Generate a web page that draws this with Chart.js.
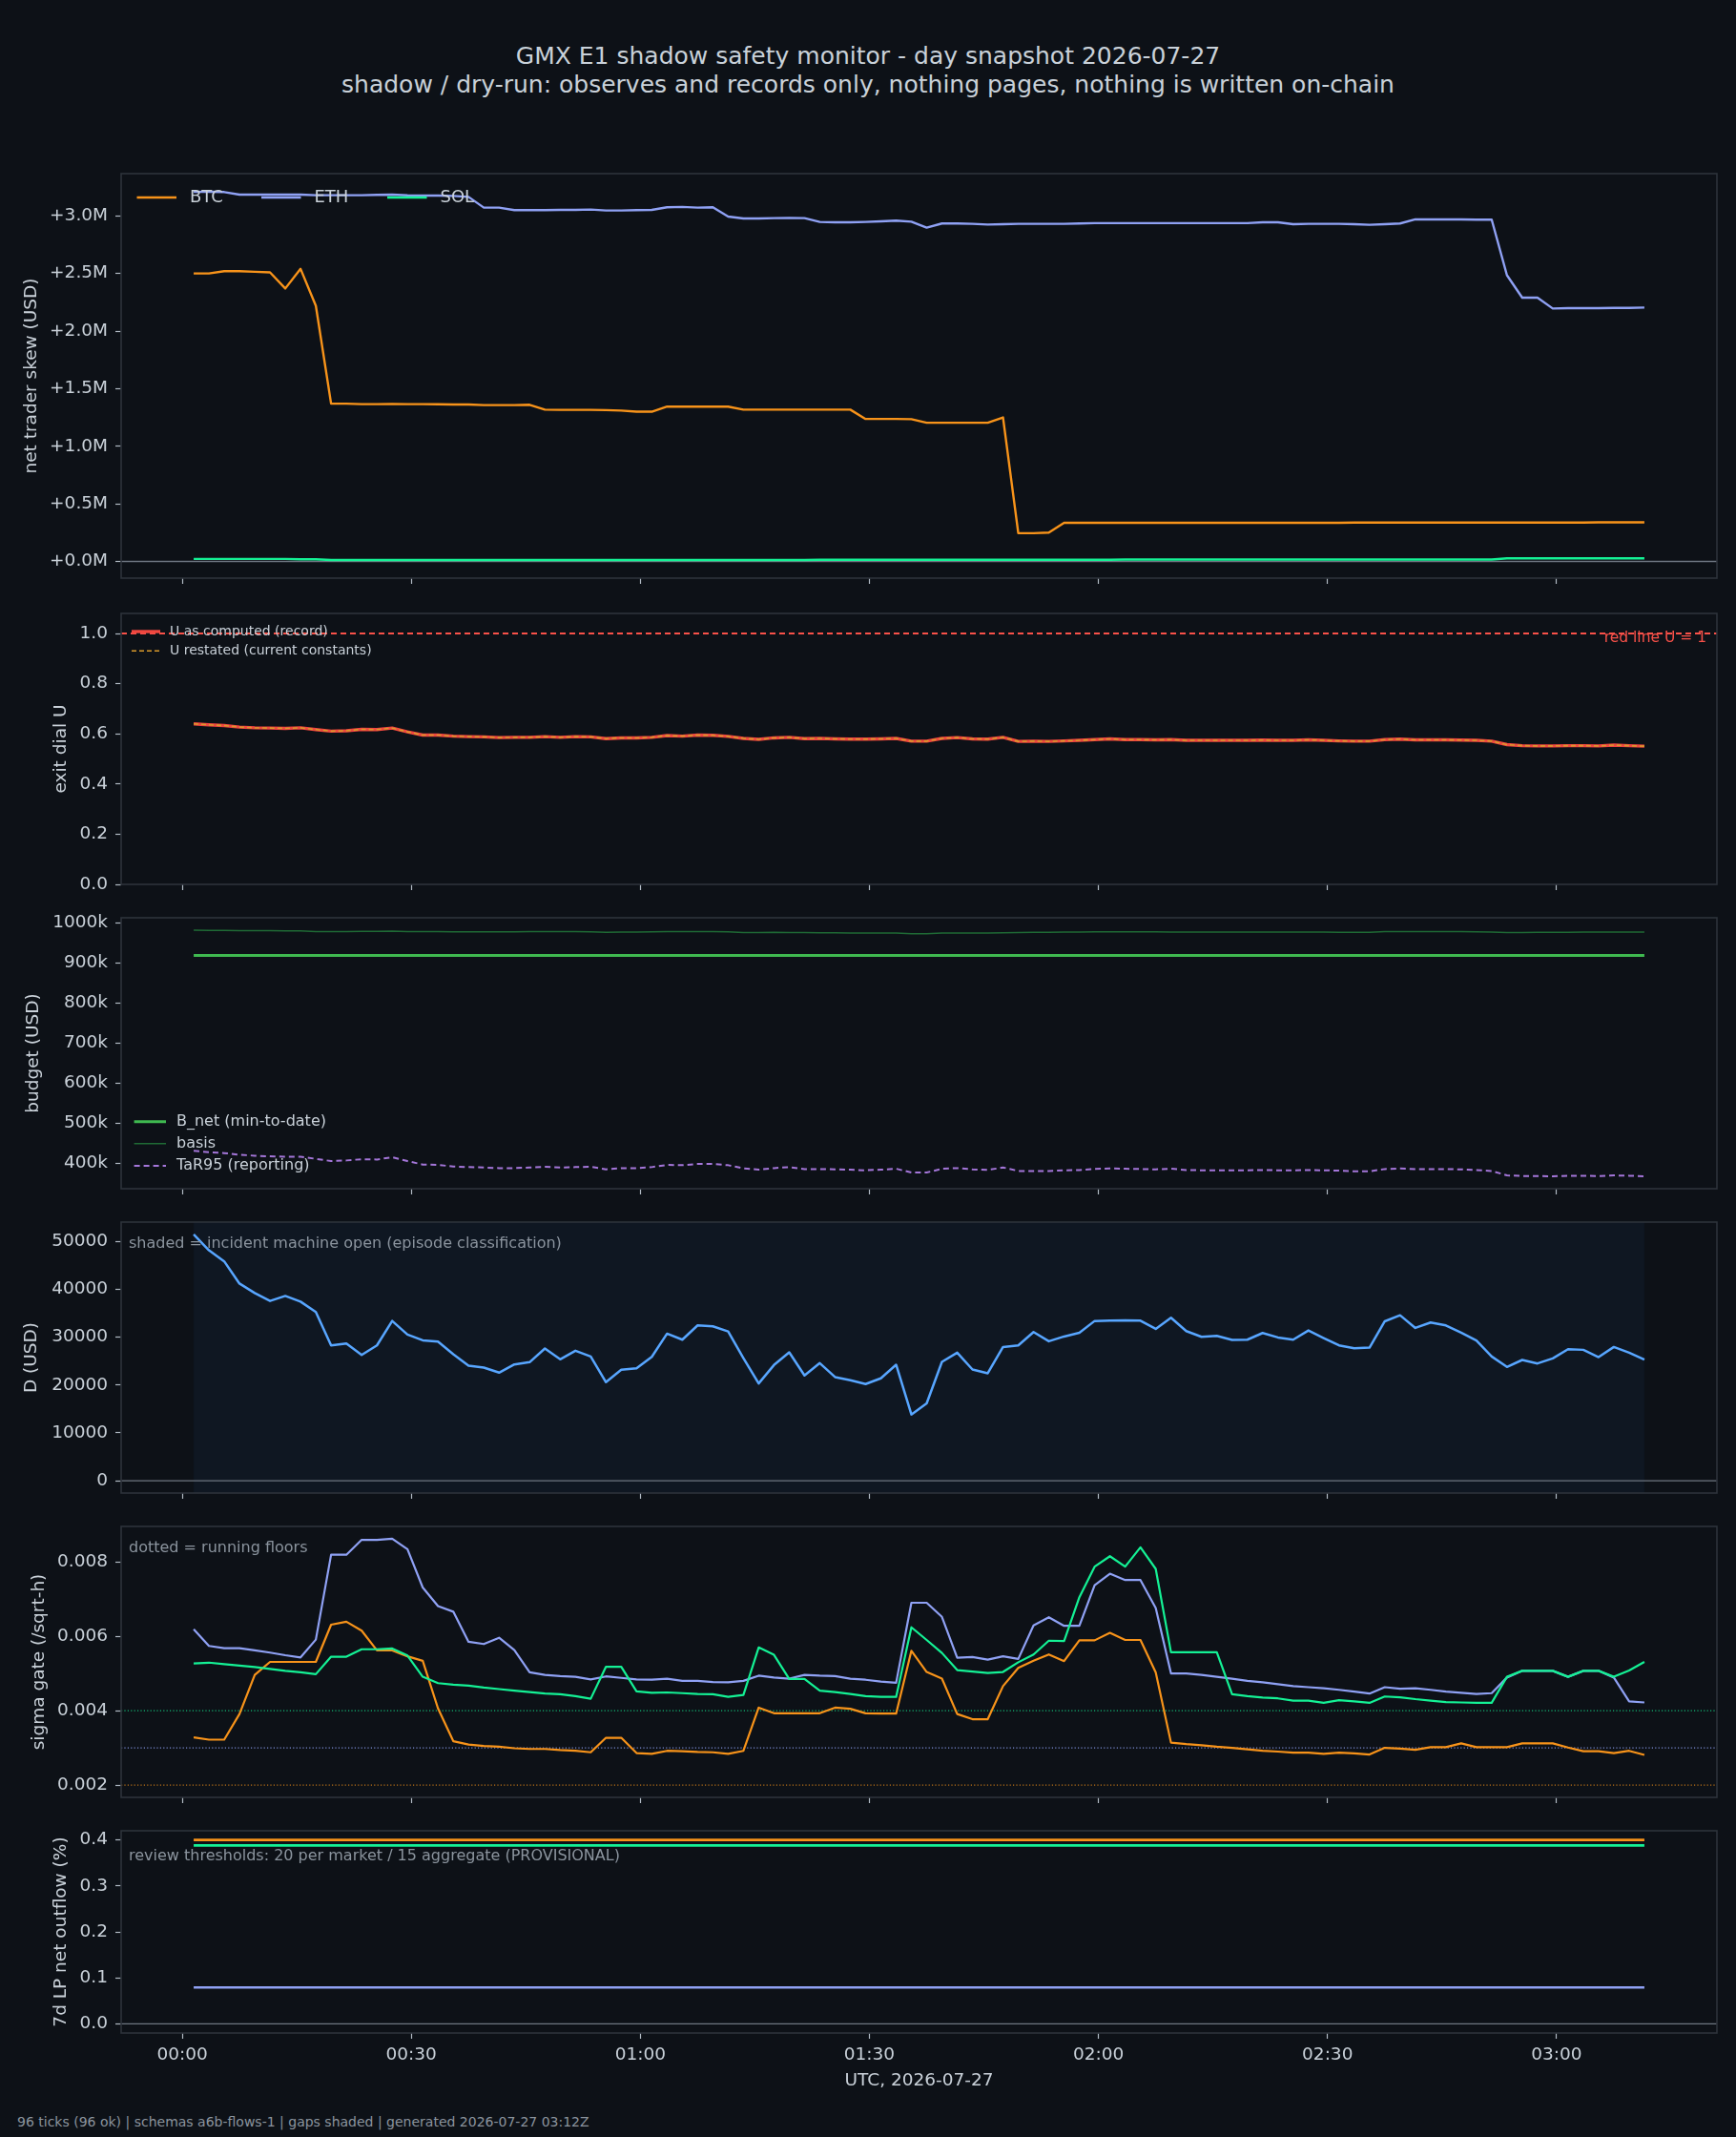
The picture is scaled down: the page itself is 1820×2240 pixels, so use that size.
<!DOCTYPE html>
<html>
<head>
<meta charset="utf-8">
<script src="https://cdn.jsdelivr.net/npm/chart.js@4/dist/chart.umd.min.js"></script>
<style>
html,body{margin:0;padding:0;background:#0d1117;}
#root{position:relative;width:1820px;height:2240px;background:#0d1117;overflow:hidden;font-family:"DejaVu Sans",sans-serif;}
.t{position:absolute;left:0;width:1820px;text-align:center;color:#c9d1d9;font-size:25px;line-height:30px;white-space:nowrap;}
.foot{position:absolute;left:18px;top:2214px;font-size:14px;line-height:20px;color:#8b949e;white-space:nowrap;}
</style>
</head>
<body>
<div id="root">
  <div class="t" style="top:44px">GMX E1 shadow safety monitor - day snapshot 2026-07-27</div>
  <div class="t" style="top:74px">shadow / dry-run: observes and records only, nothing pages, nothing is written on-chain</div>
  <div class="foot">96 ticks (96 ok) | schemas a6b-flows-1 | gaps shaded | generated 2026-07-27 03:12Z</div>
</div>
<script>
// ---------------- DATA ----------------
const tickTimes = [
"00:01:30","00:03:30","00:05:30","00:07:30","00:09:30","00:11:30","00:13:30","00:15:30","00:17:30","00:19:30",
"00:21:30","00:23:30","00:25:30","00:27:30","00:29:30","00:31:30","00:33:30","00:35:30","00:37:30","00:39:30",
"00:41:30","00:43:30","00:45:30","00:47:30","00:49:30","00:51:30","00:53:30","00:55:30","00:57:30","00:59:30",
"01:01:30","01:03:30","01:05:30","01:07:30","01:09:30","01:11:30","01:13:30","01:15:30","01:17:30","01:19:30",
"01:21:30","01:23:30","01:25:30","01:27:30","01:29:30","01:31:30","01:33:30","01:35:30","01:37:30","01:39:30",
"01:41:30","01:43:30","01:45:30","01:47:30","01:49:30","01:51:30","01:53:30","01:55:30","01:57:30","01:59:30",
"02:01:30","02:03:30","02:05:30","02:07:30","02:09:30","02:11:30","02:13:30","02:15:30","02:17:30","02:19:30",
"02:21:30","02:23:30","02:25:30","02:27:30","02:29:30","02:31:30","02:33:30","02:35:30","02:37:30","02:39:30",
"02:41:30","02:43:30","02:45:30","02:47:30","02:49:30","02:51:30","02:53:30","02:55:30","02:57:30","02:59:30",
"03:01:30","03:03:30","03:05:30","03:07:30","03:09:30","03:11:30"];

const xTickMinutes = [0, 30, 60, 90, 120, 150, 180];
const xTickLabels = ["00:00","00:30","01:00","01:30","02:00","02:30","03:00"];
const xTitle = "UTC, 2026-07-27";

// panel 1: net trader skew (USD)
const btcSkew = [
2500000,2500000,2520000,2520000,2515000,2510000,2370000,2540000,2220000,1370000,
1370000,1366000,1366000,1368000,1366000,1366000,1365000,1362000,1362000,1357000,
1357000,1357000,1360000,1318000,1316000,1316000,1316000,1314000,1310000,1300000,
1300000,1344000,1344000,1344000,1344000,1344000,1318000,1318000,1318000,1318000,
1318000,1318000,1318000,1318000,1237000,1237000,1237000,1235000,1204000,1204000,
1204000,1204000,1204000,1250000,245000,245000,250000,336000,336000,336000,
336000,336000,336000,336000,336000,336000,336000,336000,336000,336000,
336000,336000,336000,336000,336000,336000,338000,338000,338000,338000,
338000,338000,338000,338000,338000,338000,338000,338000,338000,338000,
338000,338000,340000,340000,340000,340000];
const ethSkew = [
3209000,3210000,3207000,3185000,3185000,3185000,3185000,3185000,3180000,3180000,
3180000,3180000,3183000,3185000,3178000,3176000,3176000,3173000,3165000,3072000,
3072000,3050000,3050000,3050000,3052000,3052000,3055000,3047000,3047000,3050000,
3052000,3075000,3078000,3072000,3075000,2994000,2978000,2978000,2981000,2983000,
2981000,2948000,2945000,2945000,2948000,2953000,2959000,2950000,2898000,2934000,
2934000,2931000,2925000,2928000,2931000,2931000,2931000,2931000,2934000,2937000,
2937000,2937000,2937000,2937000,2937000,2937000,2937000,2937000,2937000,2937000,
2945000,2945000,2928000,2931000,2931000,2931000,2928000,2923000,2928000,2934000,
2970000,2970000,2970000,2970000,2967000,2967000,2485000,2290000,2290000,2196000,
2199000,2199000,2199000,2201000,2201000,2204000];
const solSkew = [
22000,22000,22000,22000,22000,22000,22000,18000,18000,12000,
12000,12000,12000,12000,12000,12000,12000,12000,12000,12000,
12000,12000,12000,12000,12000,12000,12000,12000,12000,12000,
12000,12000,12000,12000,12000,12000,12000,12000,12000,12000,
12000,14000,14000,14000,14000,14000,14000,14000,14000,14000,
14000,14000,14000,14000,14000,14000,14000,14000,14000,14000,
14000,17000,17000,17000,17000,17000,17000,17000,17000,17000,
17000,17000,17000,17000,17000,17000,17000,17000,17000,17000,
17000,17000,17000,17000,17000,17000,27000,27000,27000,27000,
27000,27000,27000,27000,27000,27000];
const skewTicks = [0, 500000, 1000000, 1500000, 2000000, 2500000, 3000000];
const skewTickLabels = ["+0.0M","+0.5M","+1.0M","+1.5M","+2.0M","+2.5M","+3.0M"];

// panel 2: exit dial U
const uComputed = [
0.640,0.636,0.633,0.627,0.624,0.623,0.622,0.624,0.617,0.611,
0.612,0.618,0.617,0.623,0.608,0.595,0.595,0.591,0.589,0.588,
0.585,0.586,0.586,0.589,0.586,0.589,0.588,0.581,0.584,0.584,
0.586,0.593,0.591,0.595,0.594,0.590,0.582,0.578,0.584,0.586,
0.581,0.582,0.580,0.579,0.579,0.580,0.582,0.571,0.571,0.582,
0.585,0.580,0.579,0.586,0.570,0.571,0.570,0.572,0.574,0.577,
0.580,0.577,0.577,0.576,0.577,0.574,0.574,0.574,0.574,0.574,
0.575,0.574,0.574,0.576,0.574,0.572,0.571,0.571,0.577,0.579,
0.576,0.576,0.576,0.575,0.574,0.571,0.557,0.553,0.552,0.552,
0.553,0.553,0.552,0.555,0.553,0.551];
const uRestated = uComputed; // restated values coincide with the record
const uRedLine = 1.0;
const uTicks = [0, 0.2, 0.4, 0.6, 0.8, 1.0];
const uTickLabels = ["0.0","0.2","0.4","0.6","0.8","1.0"];

// panel 3: budget (USD)
const bNet = [
919000,919000,919000,919000,919000,919000,919000,919000,919000,919000,919000,919000,
919000,919000,919000,919000,919000,919000,919000,919000,919000,919000,919000,919000,
919000,919000,919000,919000,919000,919000,919000,919000,919000,919000,919000,919000,
919000,919000,919000,919000,919000,919000,919000,919000,919000,919000,919000,919000,
919000,919000,919000,919000,919000,919000,919000,919000,919000,919000,919000,919000,
919000,919000,919000,919000,919000,919000,919000,919000,919000,919000,919000,919000,
919000,919000,919000,919000,919000,919000,919000,919000,919000,919000,919000,919000,
919000,919000,919000,919000,919000,919000,919000,919000,919000,919000,919000,919000];
const basis = [
982500,982000,981500,981000,981000,981000,980500,980500,979000,978500,
979000,979500,979500,980000,979000,978500,978500,978000,978000,978000,
978000,978000,978500,978500,978500,978500,978000,977000,977500,977500,
978000,978500,978500,979000,978500,978000,976500,976500,977000,976500,
976500,976000,976000,975500,975500,975500,975000,973500,973500,975000,
975500,975000,975000,976000,976500,977000,977000,977500,977500,978000,
978000,978000,978000,978000,977500,977500,977500,977500,977500,977500,
977500,977500,977500,977500,977500,977000,977000,977000,978500,979000,
979000,979000,979000,978500,978000,977500,976500,976500,977000,977000,
977000,977500,977500,977500,977500,977500];
const tar95 = [
430200,427000,424600,420600,418200,416600,415800,415800,410200,404700,
406300,409400,408600,414200,404700,396000,395200,391200,389600,388800,
387200,387200,388800,390400,388800,389600,390400,384000,387200,387200,
389600,395200,394400,397500,397500,394400,386400,383200,387200,389600,
384800,384800,384000,383200,381600,383200,385600,376000,376000,385600,
387200,384000,382400,388800,380000,380000,380000,381600,382400,384800,
386400,385600,384800,384000,385600,382400,381600,381600,381600,381600,
382400,381600,381600,382400,381600,380800,379200,379200,384800,386400,
384800,384800,384800,384000,382400,380000,368900,367300,367300,366500,
368100,368100,367300,368900,368100,366500];
const budgetTicks = [400000,500000,600000,700000,800000,900000,1000000];
const budgetTickLabels = ["400k","500k","600k","700k","800k","900k","1000k"];

// panel 4: D (USD)
const dUsd = [
51444,48133,45815,41180,39193,37545,38597,37405,35220,28267,
28665,26281,28267,33373,30519,29327,29062,26414,24030,23633,
22573,24295,24758,27606,25354,27142,25950,20586,23169,23500,
25884,30718,29460,32440,32241,31182,25620,20322,24162,26812,
21977,24560,21647,20984,20189,21381,24230,13832,16150,24826,
26745,23236,22441,27936,28268,31049,29128,30122,30916,33367,
33433,33499,33433,31711,34028,31248,30056,30254,29394,29460,
30850,29923,29460,31381,29791,28268,27672,27805,33300,34559,
31910,33036,32440,30916,29262,25950,23765,25222,24494,25553,
27474,27341,25818,27936,26745,25288];
const incidentOpen = ["00:01:30", "03:11:30"];
const dTicks = [0,10000,20000,30000,40000,50000];
const dTickLabels = ["0","10000","20000","30000","40000","50000"];

// panel 5: sigma gate (/sqrt-h)
const sigBtc = [
0.00328,0.00322,0.00322,0.00391,0.00496,0.00531,0.00531,0.00531,0.00531,0.00631,
0.00639,0.00615,0.00562,0.00562,0.00546,0.00534,0.00406,0.00318,0.00309,0.00305,
0.00303,0.00299,0.00297,0.00297,0.00294,0.00292,0.00288,0.00327,0.00327,0.00286,
0.00284,0.00292,0.00291,0.00289,0.00288,0.00284,0.00292,0.00408,0.00393,0.00393,
0.00393,0.00393,0.00408,0.00405,0.00393,0.00392,0.00392,0.00561,0.00504,0.00486,
0.00391,0.00377,0.00377,0.00466,0.00515,0.00534,0.00551,0.00533,0.00589,0.00589,
0.00609,0.00590,0.00590,0.00503,0.00314,0.00310,0.00307,0.00303,0.00300,0.00296,
0.00292,0.00290,0.00287,0.00287,0.00284,0.00287,0.00285,0.00282,0.00300,0.00298,
0.00295,0.00302,0.00302,0.00312,0.00302,0.00302,0.00302,0.00312,0.00312,0.00312,
0.00301,0.00291,0.00291,0.00286,0.00292,0.00281];
const sigEth = [
0.00619,0.00574,0.00568,0.00568,0.00562,0.00556,0.00549,0.00543,0.00591,0.00819,
0.00819,0.00859,0.00859,0.00862,0.00834,0.00731,0.00681,0.00666,0.00585,0.00579,
0.00596,0.00563,0.00503,0.00496,0.00493,0.00491,0.00484,0.00492,0.00488,0.00484,
0.00483,0.00486,0.00480,0.00480,0.00477,0.00476,0.00480,0.00494,0.00489,0.00486,
0.00496,0.00494,0.00493,0.00486,0.00483,0.00478,0.00475,0.00690,0.00690,0.00652,
0.00542,0.00544,0.00537,0.00546,0.00539,0.00629,0.00651,0.00628,0.00628,0.00737,
0.00768,0.00751,0.00751,0.00676,0.00500,0.00500,0.00496,0.00491,0.00486,0.00480,
0.00476,0.00471,0.00466,0.00463,0.00460,0.00456,0.00451,0.00446,0.00463,0.00459,
0.00460,0.00456,0.00451,0.00448,0.00445,0.00447,0.00489,0.00507,0.00507,0.00507,
0.00491,0.00507,0.00507,0.00489,0.00425,0.00422];
const sigSol = [
0.00527,0.00529,0.00525,0.00521,0.00517,0.00512,0.00507,0.00503,0.00498,0.00545,
0.00545,0.00565,0.00565,0.00567,0.00548,0.00491,0.00474,0.00470,0.00467,0.00462,
0.00458,0.00454,0.00450,0.00446,0.00444,0.00439,0.00432,0.00518,0.00518,0.00452,
0.00448,0.00449,0.00447,0.00445,0.00444,0.00437,0.00442,0.00570,0.00550,0.00485,
0.00485,0.00454,0.00450,0.00445,0.00439,0.00437,0.00437,0.00624,0.00590,0.00555,
0.00509,0.00505,0.00501,0.00504,0.00530,0.00551,0.00588,0.00587,0.00705,0.00787,
0.00815,0.00787,0.00839,0.00781,0.00557,0.00557,0.00557,0.00557,0.00444,0.00439,
0.00435,0.00433,0.00427,0.00427,0.00421,0.00428,0.00425,0.00421,0.00438,0.00436,
0.00431,0.00427,0.00423,0.00422,0.00421,0.00421,0.00491,0.00507,0.00507,0.00507,
0.00491,0.00507,0.00507,0.00491,0.00508,0.00531];
const sigFloorBtc = 0.002, sigFloorEth = 0.003, sigFloorSol = 0.004;
const sigTicks = [0.002,0.004,0.006,0.008];
const sigTickLabels = ["0.002","0.004","0.006","0.008"];

// panel 6: 7d LP net outflow (%)
const lpBtc = [
0.40,0.40,0.40,0.40,0.40,0.40,0.40,0.40,0.40,0.40,0.40,0.40,
0.40,0.40,0.40,0.40,0.40,0.40,0.40,0.40,0.40,0.40,0.40,0.40,
0.40,0.40,0.40,0.40,0.40,0.40,0.40,0.40,0.40,0.40,0.40,0.40,
0.40,0.40,0.40,0.40,0.40,0.40,0.40,0.40,0.40,0.40,0.40,0.40,
0.40,0.40,0.40,0.40,0.40,0.40,0.40,0.40,0.40,0.40,0.40,0.40,
0.40,0.40,0.40,0.40,0.40,0.40,0.40,0.40,0.40,0.40,0.40,0.40,
0.40,0.40,0.40,0.40,0.40,0.40,0.40,0.40,0.40,0.40,0.40,0.40,
0.40,0.40,0.40,0.40,0.40,0.40,0.40,0.40,0.40,0.40,0.40,0.40];
const lpEth = [
0.079,0.079,0.079,0.079,0.079,0.079,0.079,0.079,0.079,0.079,0.079,0.079,
0.079,0.079,0.079,0.079,0.079,0.079,0.079,0.079,0.079,0.079,0.079,0.079,
0.079,0.079,0.079,0.079,0.079,0.079,0.079,0.079,0.079,0.079,0.079,0.079,
0.079,0.079,0.079,0.079,0.079,0.079,0.079,0.079,0.079,0.079,0.079,0.079,
0.079,0.079,0.079,0.079,0.079,0.079,0.079,0.079,0.079,0.079,0.079,0.079,
0.079,0.079,0.079,0.079,0.079,0.079,0.079,0.079,0.079,0.079,0.079,0.079,
0.079,0.079,0.079,0.079,0.079,0.079,0.079,0.079,0.079,0.079,0.079,0.079,
0.079,0.079,0.079,0.079,0.079,0.079,0.079,0.079,0.079,0.079,0.079,0.079];
const lpSol = [
0.388,0.388,0.388,0.388,0.388,0.388,0.388,0.388,0.388,0.388,0.388,0.388,
0.388,0.388,0.388,0.388,0.388,0.388,0.388,0.388,0.388,0.388,0.388,0.388,
0.388,0.388,0.388,0.388,0.388,0.388,0.388,0.388,0.388,0.388,0.388,0.388,
0.388,0.388,0.388,0.388,0.388,0.388,0.388,0.388,0.388,0.388,0.388,0.388,
0.388,0.388,0.388,0.388,0.388,0.388,0.388,0.388,0.388,0.388,0.388,0.388,
0.388,0.388,0.388,0.388,0.388,0.388,0.388,0.388,0.388,0.388,0.388,0.388,
0.388,0.388,0.388,0.388,0.388,0.388,0.388,0.388,0.388,0.388,0.388,0.388,
0.388,0.388,0.388,0.388,0.388,0.388,0.388,0.388,0.388,0.388,0.388,0.388];
const lpTicks = [0,0.1,0.2,0.3,0.4];
const lpTickLabels = ["0.0","0.1","0.2","0.3","0.4"];

// ---------------- STYLE ----------------
const FONT = '"DejaVu Sans", sans-serif';
const TXT = '#c9d1d9', MUTED = '#8b949e', TICK = '#b1bac4', FRAME = '#2d333b', ZERO = '#6e7681';
const C_BTC = '#f7931a', C_ETH = '#8fa1f4', C_SOL = '#14f195';
const X_MIN = -8, X_MAX = 201;
Chart.defaults.font.family = FONT;

const toMinutes = s => { const p = s.split(':').map(Number); return p[0]*60 + p[1] + (p[2]||0)/60; };
const pts = arr => tickTimes.map((t, i) => ({x: toMinutes(t), y: arr[i]}));

function panel(cfg) {
  const PAD_TOP = 16;
  const h = cfg.bottom - cfg.top + PAD_TOP + cfg.xAxisH;
  const c = document.createElement('canvas');
  c.width = 1820; c.height = h;
  c.style.cssText = 'position:absolute;left:0;top:' + (cfg.top - PAD_TOP) + 'px;width:1820px;height:' + h + 'px;';
  document.getElementById('root').appendChild(c);

  const deco = {
    id: 'deco',
    beforeDatasetsDraw(chart) {
      const ctx = chart.ctx, a = chart.chartArea, xs = chart.scales.x, ys = chart.scales.y;
      ctx.save();
      ctx.beginPath(); ctx.rect(a.left, a.top, a.right - a.left, a.bottom - a.top); ctx.clip();
      if (cfg.span) {
        const x0 = xs.getPixelForValue(toMinutes(cfg.span.from)), x1 = xs.getPixelForValue(toMinutes(cfg.span.to));
        ctx.fillStyle = cfg.span.color;
        ctx.fillRect(x0, a.top, x1 - x0, a.bottom - a.top);
      }
      (cfg.hlines || []).forEach(hl => {
        const y = ys.getPixelForValue(hl.value);
        ctx.strokeStyle = hl.color; ctx.lineWidth = hl.width; ctx.setLineDash(hl.dash || []);
        ctx.beginPath(); ctx.moveTo(a.left, y); ctx.lineTo(a.right, y); ctx.stroke();
      });
      ctx.restore();
    },
    afterDatasetsDraw(chart) {
      const ctx = chart.ctx, a = chart.chartArea;
      ctx.save();
      if (cfg.legend) {
        const lg = cfg.legend;
        ctx.font = lg.size + 'px ' + FONT;
        ctx.textBaseline = 'middle'; ctx.textAlign = 'left';
        lg.items.forEach(it => {
          const ds = chart.data.datasets[it.ds];
          const x0 = a.left + it.dx;
          const y = it.fromBottom ? a.bottom - it.dy : a.top + it.dy;
          ctx.strokeStyle = ds.borderColor; ctx.lineWidth = ds.borderWidth; ctx.setLineDash(ds.borderDash || []);
          ctx.lineCap = 'butt';
          ctx.beginPath(); ctx.moveTo(x0, y); ctx.lineTo(x0 + lg.len, y); ctx.stroke();
          ctx.setLineDash([]);
          ctx.fillStyle = TXT;
          ctx.fillText(ds.label, x0 + lg.textDx, y);
        });
      }
      (cfg.texts || []).forEach(t => {
        ctx.font = t.size + 'px ' + FONT;
        ctx.textBaseline = 'middle';
        ctx.textAlign = t.align || 'left';
        ctx.fillStyle = t.color;
        const x = t.align === 'right' ? a.right - t.dx : a.left + t.dx;
        ctx.fillText(t.text, x, a.top + t.dy);
      });
      ctx.restore();
    },
    afterDraw(chart) {
      const ctx = chart.ctx, a = chart.chartArea;
      ctx.save();
      ctx.strokeStyle = FRAME; ctx.lineWidth = 1.6;
      ctx.strokeRect(a.left, a.top, a.right - a.left, a.bottom - a.top);
      ctx.restore();
    }
  };

  return new Chart(c.getContext('2d'), {
    type: 'line',
    data: {datasets: cfg.datasets},
    options: {
      responsive: false, maintainAspectRatio: false, animation: false, devicePixelRatio: 1,
      events: [],
      layout: {padding: {top: PAD_TOP, right: 20, bottom: 0, left: 0}},
      elements: {point: {radius: 0, hoverRadius: 0}, line: {tension: 0, borderJoinStyle: 'round', borderCapStyle: 'butt'}},
      plugins: {legend: {display: false}, tooltip: {enabled: false}, title: {display: false}},
      scales: {
        x: {
          type: 'linear', position: 'bottom', min: X_MIN, max: X_MAX,
          afterBuildTicks: s => { s.ticks = xTickMinutes.map(v => ({value: v})); },
          afterFit: s => { s.height = cfg.xAxisH; s.paddingLeft = 0; s.paddingRight = 0; },
          ticks: {display: !!cfg.xLabels, autoSkip: false, maxRotation: 0, padding: 6, color: TXT,
                  font: {size: 18.5}, callback: (v, i) => xTickLabels[i]},
          grid: {drawOnChartArea: false, drawTicks: true, tickLength: 6, tickColor: TICK, tickWidth: 1.2, color: 'rgba(0,0,0,0)'},
          border: {display: false},
          title: cfg.xLabels ? {display: true, text: xTitle, color: TXT, font: {size: 18.5}, padding: {top: 0, bottom: 9}} : {display: false}
        },
        y: {
          type: 'linear', min: cfg.yMin, max: cfg.yMax,
          afterBuildTicks: s => { s.ticks = cfg.yTicks.map(v => ({value: v})); },
          afterFit: s => { s.width = 127; s.paddingTop = 0; s.paddingBottom = 0; },
          ticks: {autoSkip: false, padding: 8, color: TXT, font: {size: 18.5}, callback: (v, i) => cfg.yTickLabels[i]},
          grid: {drawOnChartArea: false, drawTicks: true, tickLength: 6, tickColor: TICK, tickWidth: 1.2, color: 'rgba(0,0,0,0)'},
          border: {display: false},
          title: {display: true, text: cfg.yTitle, color: TXT, font: {size: 18.5}, padding: {top: cfg.yTitlePad, bottom: 0}}
        }
      }
    },
    plugins: [deco]
  });
}

// ---------------- PANELS ----------------
panel({
  top: 182, bottom: 606, xAxisH: 8,
  yMin: -145000, yMax: 3367000, yTicks: skewTicks, yTickLabels: skewTickLabels,
  yTitle: 'net trader skew (USD)', yTitlePad: 22.5,
  hlines: [{value: 0, color: ZERO, width: 1.3}],
  datasets: [
    {label: 'BTC', data: pts(btcSkew), borderColor: C_BTC, borderWidth: 2.4, order: 2},
    {label: 'ETH', data: pts(ethSkew), borderColor: C_ETH, borderWidth: 2.4, order: 1},
    {label: 'SOL', data: pts(solSkew), borderColor: C_SOL, borderWidth: 2.4, order: 0}
  ],
  legend: {size: 18, len: 41.5, textDx: 55.5, items: [{ds: 0, dx: 16.5, dy: 25}, {ds: 1, dx: 147, dy: 25}, {ds: 2, dx: 279, dy: 25}]}
});

panel({
  top: 643, bottom: 927, xAxisH: 8,
  yMin: 0, yMax: 1.08, yTicks: uTicks, yTickLabels: uTickLabels,
  yTitle: 'exit dial U', yTitlePad: 53.5,
  hlines: [{value: uRedLine, color: '#f85149', width: 2, dash: [6, 4]}],
  datasets: [
    {label: 'U as computed (record)', data: pts(uComputed), borderColor: '#f0473f', borderWidth: 3.4, order: 1},
    {label: 'U restated (current constants)', data: pts(uRestated), borderColor: '#d99a2b', borderWidth: 1.6, borderDash: [5, 3], order: 0}
  ],
  legend: {size: 14, len: 30, textDx: 40, items: [{ds: 0, dx: 11, dy: 19}, {ds: 1, dx: 11, dy: 39.3}]},
  texts: [{text: 'red line U = 1', dx: 11, dy: 26, align: 'right', color: '#f85149', size: 15.5}]
});

panel({
  top: 962, bottom: 1246, xAxisH: 8,
  yMin: 335600, yMax: 1013400, yTicks: budgetTicks, yTickLabels: budgetTickLabels,
  yTitle: 'budget (USD)', yTitlePad: 24,
  datasets: [
    {label: 'B_net (min-to-date)', data: pts(bNet), borderColor: '#3fb950', borderWidth: 3, order: 0},
    {label: 'basis', data: pts(basis), borderColor: '#1f6a35', borderWidth: 1.5, order: 1},
    {label: 'TaR95 (reporting)', data: pts(tar95), borderColor: '#a476d9', borderWidth: 2, borderDash: [6, 4], order: 2}
  ],
  legend: {size: 16, len: 33.4, textDx: 44.4, items: [
    {ds: 0, dx: 13.6, dy: 70.3, fromBottom: true},
    {ds: 1, dx: 13.6, dy: 47.3, fromBottom: true},
    {ds: 2, dx: 13.6, dy: 24, fromBottom: true}]}
});

panel({
  top: 1281, bottom: 1565, xAxisH: 8,
  yMin: -2572, yMax: 54016, yTicks: dTicks, yTickLabels: dTickLabels,
  yTitle: 'D (USD)', yTitlePad: 22.5,
  span: {from: incidentOpen[0], to: incidentOpen[1], color: 'rgba(56,139,253,0.05)'},
  hlines: [{value: 0, color: ZERO, width: 1.3}],
  datasets: [
    {label: 'D', data: pts(dUsd), borderColor: '#58a6ff', borderWidth: 2.5}
  ],
  texts: [{text: 'shaded = incident machine open (episode classification)', dx: 8, dy: 23.3, color: MUTED, size: 16}]
});

panel({
  top: 1600, bottom: 1884, xAxisH: 8,
  yMin: 0.001669, yMax: 0.008951, yTicks: sigTicks, yTickLabels: sigTickLabels,
  yTitle: 'sigma gate (/sqrt-h)', yTitlePad: 30,
  hlines: [
    {value: sigFloorSol, color: 'rgba(20,241,149,0.75)', width: 1.2, dash: [1.2, 2.2]},
    {value: sigFloorEth, color: 'rgba(143,161,244,0.85)', width: 1.2, dash: [1.2, 2.2]},
    {value: sigFloorBtc, color: 'rgba(247,147,26,0.75)', width: 1.2, dash: [1.2, 2.2]}
  ],
  datasets: [
    {label: 'BTC', data: pts(sigBtc), borderColor: C_BTC, borderWidth: 2.2, order: 2},
    {label: 'ETH', data: pts(sigEth), borderColor: C_ETH, borderWidth: 2.2, order: 1},
    {label: 'SOL', data: pts(sigSol), borderColor: C_SOL, borderWidth: 2.2, order: 0}
  ],
  texts: [{text: 'dotted = running floors', dx: 8, dy: 22.7, color: MUTED, size: 16}]
});

panel({
  top: 1919, bottom: 2131, xAxisH: 70, xLabels: true,
  yMin: -0.02, yMax: 0.42, yTicks: lpTicks, yTickLabels: lpTickLabels,
  yTitle: '7d LP net outflow (%)', yTitlePad: 53.5,
  hlines: [{value: 0, color: ZERO, width: 1.3}],
  datasets: [
    {label: 'BTC', data: pts(lpBtc), borderColor: C_BTC, borderWidth: 2.6, order: 2},
    {label: 'ETH', data: pts(lpEth), borderColor: C_ETH, borderWidth: 2.6, order: 1},
    {label: 'SOL', data: pts(lpSol), borderColor: C_SOL, borderWidth: 2.6, order: 0}
  ],
  texts: [{text: 'review thresholds: 20 per market / 15 aggregate (PROVISIONAL)', dx: 8, dy: 26.7, color: MUTED, size: 16}]
});
</script>
</body>
</html>
